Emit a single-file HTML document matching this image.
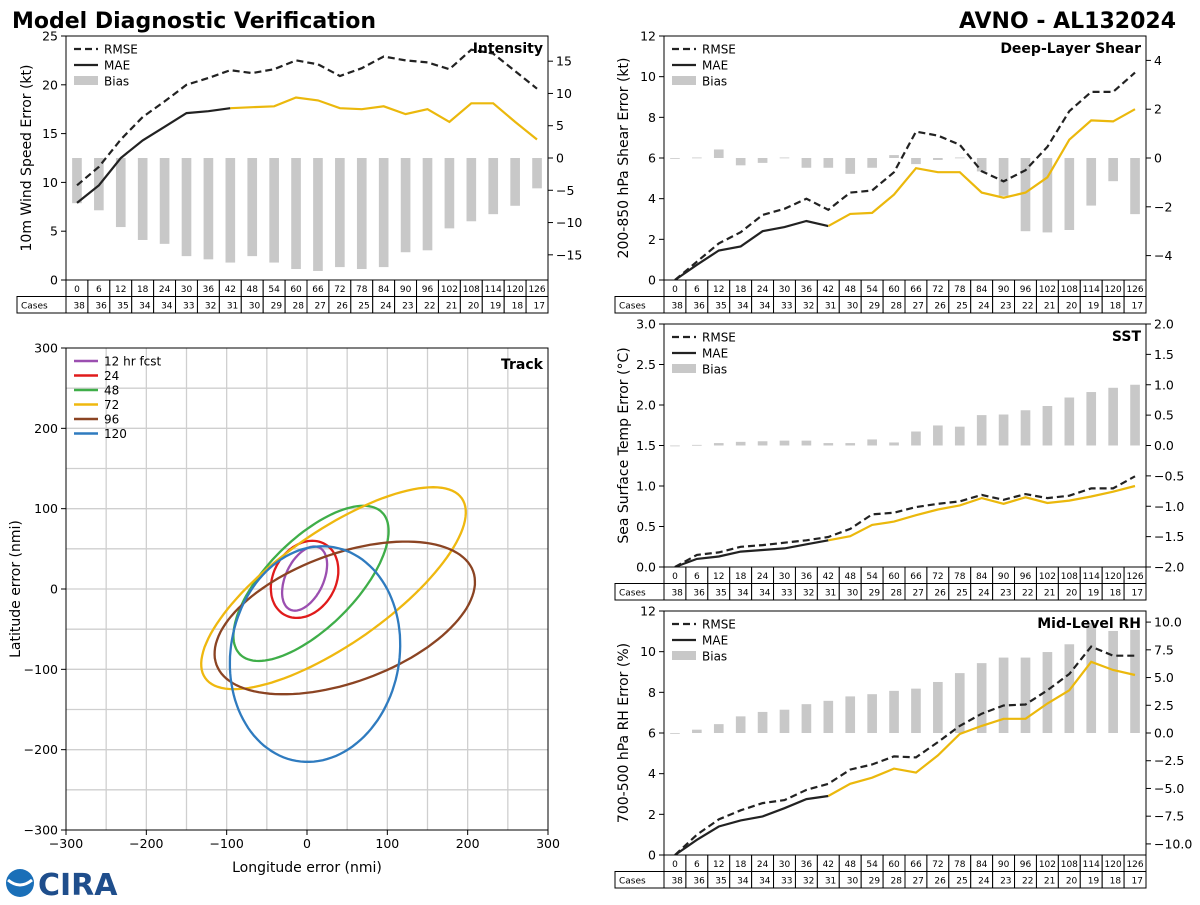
<!DOCTYPE html>
<html><head><meta charset="utf-8"><style>
body{margin:0;background:#fff;width:1200px;height:900px;overflow:hidden;font-family:"Liberation Sans","DejaVu Sans",sans-serif}
svg text{font-family:"DejaVu Sans","Liberation Sans",sans-serif}
</style></head><body>
<svg id="c" width="1200" height="900" xmlns="http://www.w3.org/2000/svg">
<text x="12" y="28" font-size="22" font-weight="bold">Model Diagnostic Verification</text>
<text x="1176" y="28" font-size="22" font-weight="bold" text-anchor="end">AVNO - AL132024</text>
<g>
<circle cx="20" cy="883" r="14" fill="#1a6fb8"/>
<path d="M8 880 Q20 890 32 880" stroke="#fff" stroke-width="3" fill="none"/>
<text x="38" y="895" font-size="30" font-weight="bold" fill="#1f4e8c">CIRA</text>
</g>
</svg>
<script>
const leads=[0,6,12,18,24,30,36,42,48,54,60,66,72,78,84,90,96,102,108,114,120,126];
const cases=[38,36,35,34,34,33,32,31,30,29,28,27,26,25,24,23,22,21,20,19,18,17];
const intRmse=[9.7,11.6,14.4,16.7,18.3,20.0,20.7,21.5,21.2,21.6,22.5,22.1,20.9,21.7,22.9,22.5,22.3,21.6,23.6,23.2,21.4,19.6];
const intMae=[7.9,9.7,12.5,14.3,15.7,17.1,17.3,17.6,17.7,17.8,18.7,18.4,17.6,17.5,17.8,17.0,17.5,16.2,18.1,18.1,16.2,14.4];
const intBias=[-7.0,-8.1,-10.7,-12.7,-13.3,-15.2,-15.7,-16.2,-15.2,-16.2,-17.2,-17.5,-16.9,-17.2,-16.9,-14.6,-14.3,-10.9,-9.8,-8.7,-7.4,-4.7];
const shrRmse=[0,0.9,1.8,2.35,3.2,3.5,4.0,3.45,4.3,4.4,5.3,7.3,7.1,6.65,5.35,4.85,5.4,6.55,8.3,9.25,9.25,10.2];
const shrMae=[0,0.75,1.45,1.65,2.4,2.6,2.9,2.65,3.25,3.3,4.2,5.5,5.3,5.3,4.3,4.05,4.3,5.05,6.9,7.85,7.8,8.4];
const shrBias=[0,0.02,0.35,-0.3,-0.2,0.02,-0.4,-0.4,-0.65,-0.4,0.12,-0.25,-0.08,0.02,-0.55,-1.55,-3.0,-3.05,-2.95,-1.95,-0.95,-2.3];
const sstRmse=[0,0.15,0.18,0.25,0.27,0.3,0.33,0.37,0.47,0.65,0.67,0.74,0.78,0.81,0.89,0.83,0.9,0.85,0.88,0.97,0.97,1.12];
const sstMae=[0,0.1,0.13,0.19,0.21,0.23,0.28,0.33,0.38,0.52,0.56,0.64,0.71,0.76,0.85,0.78,0.86,0.79,0.82,0.87,0.93,1.0];
const sstBias=[0,0.01,0.04,0.06,0.07,0.08,0.08,0.04,0.04,0.1,0.05,0.23,0.33,0.31,0.5,0.51,0.58,0.65,0.79,0.88,0.95,1.0];
const rhRmse=[0,1.0,1.75,2.2,2.55,2.7,3.2,3.5,4.2,4.45,4.85,4.8,5.55,6.35,6.95,7.35,7.4,8.1,8.9,10.25,9.8,9.8];
const rhMae=[0,0.75,1.4,1.7,1.9,2.3,2.75,2.9,3.5,3.8,4.25,4.05,4.9,5.95,6.35,6.7,6.7,7.45,8.1,9.5,9.1,8.85];
const rhBias=[0,0.3,0.8,1.5,1.9,2.1,2.6,2.9,3.3,3.5,3.8,4.0,4.6,5.4,6.3,6.8,6.8,7.3,8.0,9.9,9.2,9.3];
// track ellipses: [cx, cy, semi-major, semi-minor, angle deg] in nmi
const trkLabels=['12 hr fcst','24','48','72','96','120'];
const trkColors=['#9b4fb0','#e01b1b','#3fae49','#efb80f','#8b4423','#2f7bbf'];
const trkCx=[-3,-3,5,33,47,10];
const trkCy=[13,12,7,1,-36,-81];
const trkA=[42.7,50.7,125,195,170,135];
const trkB=[23.6,38.7,55,70,80,105];
const trkAng=[65,60,45,35,20,80];

const S='http://www.w3.org/2000/svg', svg=document.getElementById('c');
function el(t,a,p){const e=document.createElementNS(S,t);for(const k in a)e.setAttribute(k,a[k]);(p||svg).appendChild(e);return e;}
function txt(x,y,s,fs,anchor,p){const t=el('text',{x:x,y:y,'font-size':fs,'text-anchor':anchor||'start'},p);t.textContent=s;return t;}

function panel(o){
  const g=el('g',{});
  
  
  const W=(o.x1-o.x0)/leads.length;
  const xs=i=>o.x0+(i+0.5)*W;
  const yl=v=>o.y1-(v-o.lmin)/(o.lmax-o.lmin)*(o.y1-o.y0);
  const yr=v=>o.y1-(v-o.rmin)/(o.rmax-o.rmin)*(o.y1-o.y0);
  // bars
  o.bias.forEach((v,i)=>{
    const y0=yr(0),y=yr(v);
    const r=el('rect',{x:xs(i)-W*0.22,y:Math.min(y0,y),width:W*0.44,height:Math.max(Math.abs(y-y0),0.8),fill:'#c8c8c8'},g);
    
    
  });
  const line=(arr,a,b,col,dash,nm)=>{
    let d='';for(let i=a;i<=b;i++)d+=(i===a?'M':'L')+xs(i).toFixed(1)+' '+yl(arr[i]).toFixed(1);
    const p=el('path',{d:d,fill:'none',stroke:col,'stroke-width':2.2,'stroke-dasharray':dash||'none'},g);
    
    
  };
  line(o.rmse,0,leads.length-1,'#222','7,4','rmse-line');
  line(o.mae,0,7,'#222',null,'mae-line-early');
  line(o.mae,7,leads.length-1,'#ebb80c',null,'mae-line');
  el('rect',{x:o.x0,y:o.y0,width:o.x1-o.x0,height:o.y1-o.y0,fill:'none',stroke:'#000','stroke-width':1},g);
  o.lticks.forEach(v=>{const y=yl(v);el('line',{x1:o.x0-5,x2:o.x0,y1:y,y2:y,stroke:'#000'},g);
    const t=txt(o.x0-8,y+4.5,o.fmtL(v),12.5,'end',g);});
  o.rticks.forEach(v=>{const y=yr(v);el('line',{x1:o.x1,x2:o.x1+5,y1:y,y2:y,stroke:'#000'},g);
    const t=txt(o.x1+8,y+4.5,o.fmtR(v),12.5,'start',g);});
  const yt=txt(0,0,o.ylabel,14,'middle',g);
  yt.setAttribute('transform','translate('+o.labX+','+((o.y0+o.y1)/2)+') rotate(-90)');
  
  const tt=txt(o.x1-5,o.y0+17,o.title,14,'end',g);tt.setAttribute('font-weight','bold');
  
  // legend
  const lx=o.x0+8,ly=o.y0+13;
  el('line',{x1:lx,x2:lx+24,y1:ly,y2:ly,stroke:'#222','stroke-width':2.2,'stroke-dasharray':'7,4'},g);
  el('line',{x1:lx,x2:lx+24,y1:ly+16,y2:ly+16,stroke:'#222','stroke-width':2.2},g);
  el('rect',{x:lx,y:ly+27,width:24,height:9,fill:'#c8c8c8'},g);
  ['RMSE','MAE','Bias'].forEach((s,k)=>{const t=txt(lx+30,ly+4.5+k*16,s,12,'start',g);});
  // table
  const ty=o.y1, rh=16.5;
  el('rect',{x:o.x0-49,y:ty+rh,width:49,height:rh,fill:'#fff',stroke:'#000'},g);
  const ct=txt(o.x0-45,ty+rh+12,'Cases',9,'start',g);
  leads.forEach((L,i)=>{
    const x=o.x0+i*W;
    el('rect',{x:x,y:ty,width:W,height:rh,fill:'#fff',stroke:'#000'},g);
    el('rect',{x:x,y:ty+rh,width:W,height:rh,fill:'#fff',stroke:'#000'},g);
    const a=txt(x+W/2,ty+12,String(L),9,'middle',g);
    const b=txt(x+W-3,ty+rh+12,String(cases[i]),9,'end',g);
  });
}
const f0=v=>String(v), f1=v=>v.toFixed(1);
panel({name:'intensity',x0:66,x1:548,y0:36,y1:280,lmin:0,lmax:25,lticks:[0,5,10,15,20,25],fmtL:f0,rmin:-18.9,rmax:18.9,rticks:[-15,-10,-5,0,5,10,15],fmtR:v=>String(v).replace('-','−'),rmse:intRmse,mae:intMae,bias:intBias,title:'Intensity',ylabel:'10m Wind Speed Error (kt)',labX:31});
panel({name:'shear',x0:664,x1:1146,y0:36,y1:280,lmin:0,lmax:12,lticks:[0,2,4,6,8,10,12],fmtL:f0,rmin:-5,rmax:5,rticks:[-4,-2,0,2,4],fmtR:v=>String(v).replace('-','−'),rmse:shrRmse,mae:shrMae,bias:shrBias,title:'Deep-Layer Shear',ylabel:'200-850 hPa Shear Error (kt)',labX:628});
panel({name:'sst',x0:664,x1:1146,y0:324,y1:567,lmin:0,lmax:3,lticks:[0,0.5,1,1.5,2,2.5,3],fmtL:f1,rmin:-2,rmax:2,rticks:[-2,-1.5,-1,-0.5,0,0.5,1,1.5,2],fmtR:v=>v.toFixed(1).replace('-','−'),rmse:sstRmse,mae:sstMae,bias:sstBias,title:'SST',ylabel:'Sea Surface Temp Error (°C)',labX:628});
panel({name:'rh',x0:664,x1:1146,y0:611,y1:855,lmin:0,lmax:12,lticks:[0,2,4,6,8,10,12],fmtL:f0,rmin:-11,rmax:11,rticks:[-10,-7.5,-5,-2.5,0,2.5,5,7.5,10],fmtR:v=>v.toFixed(1).replace('-','−'),rmse:rhRmse,mae:rhMae,bias:rhBias,title:'Mid-Level RH',ylabel:'700-500 hPa RH Error (%)',labX:628});

// track panel
(function(){
  const g=el('g',{});
  
  
  const x0=66,x1=548,y0=348,y1=830;
  const xs=v=>x0+(v+300)/600*(x1-x0), ys=v=>y1-(v+300)/600*(y1-y0);
  for(let v=-250;v<=250;v+=50){
    el('line',{x1:xs(v),x2:xs(v),y1:y0,y2:y1,stroke:'#cfcfcf','stroke-width':1.3},g);
    el('line',{x1:x0,x2:x1,y1:ys(v),y2:ys(v),stroke:'#cfcfcf','stroke-width':1.3},g);
  }
  for(let i=0;i<trkCx.length;i++){
    const th=trkAng[i]*Math.PI/180;let d='';
    for(let k=0;k<=120;k++){const t=k/120*2*Math.PI;
      const ex=trkCx[i]+trkA[i]*Math.cos(t)*Math.cos(th)-trkB[i]*Math.sin(t)*Math.sin(th);
      const ey=trkCy[i]+trkA[i]*Math.cos(t)*Math.sin(th)+trkB[i]*Math.sin(t)*Math.cos(th);
      d+=(k?'L':'M')+xs(ex).toFixed(1)+' '+ys(ey).toFixed(1);}
    const p=el('path',{d:d+'Z',fill:'none',stroke:trkColors[i],'stroke-width':2.3},g);
    
    
    el('line',{x1:74,x2:98,y1:361+i*14.5,y2:361+i*14.5,stroke:trkColors[i],'stroke-width':2.5},g);
    const t=txt(104,365.5+i*14.5,trkLabels[i],12,'start',g);
    
    
  }
  el('rect',{x:x0,y:y0,width:x1-x0,height:y1-y0,fill:'none',stroke:'#000'},g);
  for(let v=-300;v<=300;v+=100){
    el('line',{x1:xs(v),x2:xs(v),y1:y1,y2:y1+5,stroke:'#000'},g);
    el('line',{x1:x0-5,x2:x0,y1:ys(v),y2:ys(v),stroke:'#000'},g);
    const s=String(v).replace('-','−');
    const a=txt(xs(v),y1+18,s,12.5,'middle',g);
    const b=txt(x0-8,ys(v)+4.5,s,12.5,'end',g);
  }
  const xt=txt(307,872,'Longitude error (nmi)',14,'middle',g);
  const yt=txt(0,0,'Latitude error (nmi)',14,'middle',g);yt.setAttribute('transform','translate(20,589) rotate(-90)');
  
  const tt=txt(543,369,'Track',14,'end',g);tt.setAttribute('font-weight','bold');
  
})();
</script>
</body></html>
